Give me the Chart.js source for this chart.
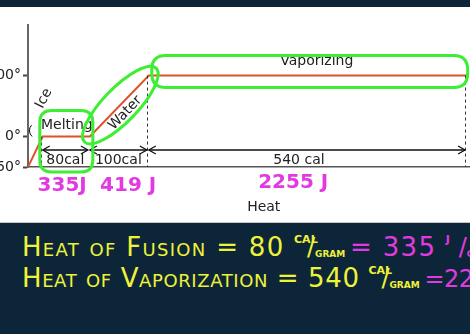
<!DOCTYPE html>
<html lang="en">
<head>
<meta charset="UTF-8">
<title>Heating curve</title>
<script src="https://cdn.jsdelivr.net/npm/chart.js"></script>
<style>
    body {
        margin: 0;
        width: 470px;
        height: 334px;
        overflow: hidden;
        background-color: #0d2538;
        font-family: 'DejaVu Sans', sans-serif;
    }
    .plot {
        position: absolute;
        left: 0;
        top: 7px;
        width: 470px;
        height: 215px;
        background-color: #fff;
        border-bottom: 1px solid #c8c8c8;
    }
    .line {
        position: absolute;
        left: 22px;
        width: 448px;
        overflow: hidden;
        white-space: nowrap;
        font-variant: small-caps;
        color: #eef23a;
        font-size: 26px;
        line-height: 26px;
        height: 32px;
        letter-spacing: 1.3px;
    }
    .l1 { top: 234px; }
    .l2 { top: 265px; letter-spacing: 0.6px; }
    .pink { color: #e23ae0; }
    .l2 .pink { font-size: 24px; letter-spacing: -0.5px; }
    .frac {
        display: inline-block;
        position: relative;
        width: 56px;
        height: 26px;
        vertical-align: top;
        letter-spacing: 0;
        font-variant: normal;
        font-weight: bold;
        font-size: 11px;
    }
    .frac .num { position: absolute; left: 0; top: 0; font-size: 11px; line-height: 11px; }
    .frac .sl { position: absolute; left: 13px; top: 1px; font-size: 24px; line-height: 24px; font-weight: normal; }
    .frac .den { position: absolute; left: 21px; top: 16px; font-size: 9px; line-height: 9px; }
</style>
</head>
<body>
<div class="plot"><canvas id="curve" width="470" height="215"></canvas></div>
<div class="line l1">Heat of Fusion = 80 <span class="frac"><span class="num">CAL</span><span class="sl">/</span><span class="den">GRAM</span></span><span class="pink">= 335 <span class="frac"><span class="num">J</span><span class="sl">/</span><span class="den">GRAM</span></span></span></div>
<div class="line l2">Heat of Vaporization = 540 <span class="frac"><span class="num">CAL</span><span class="sl">/</span><span class="den">GRAM</span></span><span class="pink">=2255 <span class="frac"><span class="num">J</span><span class="sl">/</span><span class="den">GRAM</span></span></span></div>
<script>
    // heat added (cal per gram) and temperature (°C) at each corner of the curve
    const heatCal = [0, 25, 105, 205, 745];
    const tempC = [-50, 0, 0, 100, 100];
    const tempTicks = [-50, 0, 100];
    const phaseNames = ['Ice', 'Melting', 'Water', 'Vaporizing'];
    const spanCal = ['80cal', '100cal', '540 cal'];
    const spanJoule = ['335J', '419 J', '2255 J'];

    const green = '#3cef32';
    const pink = '#e23ae0';

    function arrowHead(ctx, x, y, dir) {
        ctx.beginPath();
        ctx.moveTo(x - dir * 7, y - 4);
        ctx.lineTo(x, y);
        ctx.lineTo(x - dir * 7, y + 4);
        ctx.stroke();
    }

    function roundBox(ctx, l, t, r, b, rad) {
        ctx.beginPath();
        ctx.moveTo(l + rad, t);
        ctx.lineTo(r - rad, t);
        ctx.quadraticCurveTo(r, t, r, t + rad);
        ctx.lineTo(r, b - rad);
        ctx.quadraticCurveTo(r, b, r - rad, b);
        ctx.lineTo(l + rad, b);
        ctx.quadraticCurveTo(l, b, l, b - rad);
        ctx.lineTo(l, t + rad);
        ctx.quadraticCurveTo(l, t, l + rad, t);
        ctx.stroke();
    }

    const notes = {
        id: 'notes',
        afterDatasetsDraw(chart) {
            const { ctx, chartArea: a } = chart;
            const xs = chart.scales.x, ys = chart.scales.y;
            const X = v => xs.getPixelForValue(v);
            const Y = v => ys.getPixelForValue(v);
            ctx.save();

            // dashed drop lines
            ctx.strokeStyle = '#333';
            ctx.lineWidth = 1;
            ctx.setLineDash([3, 3]);
            [1, 3, 4].forEach(i => {
                ctx.beginPath();
                ctx.moveTo(Math.round(X(heatCal[i])) - 1.5, Y(tempC[i]));
                ctx.lineTo(Math.round(X(heatCal[i])) - 1.5, a.bottom);
                ctx.stroke();
            });
            ctx.setLineDash([]);

            // span arrows with calorie labels
            const ay = a.bottom - 17;
            ctx.strokeStyle = '#111';
            ctx.lineWidth = 1.3;
            ctx.fillStyle = '#222';
            ctx.font = '14px "DejaVu Sans"';
            ctx.textAlign = 'center';
            ctx.textBaseline = 'middle';
            for (let i = 0; i < 3; i++) {
                const x0 = X(heatCal[i + 1]), x1 = X(heatCal[i + 2]) - 2;
                ctx.beginPath();
                ctx.moveTo(x0, ay);
                ctx.lineTo(x1, ay);
                ctx.stroke();
                arrowHead(ctx, x0, ay, -1);
                arrowHead(ctx, x1, ay, 1);
                ctx.fillText(spanCal[i], (x0 + x1) / 2 + (i === 2 ? -8 : 0), ay + 10);
            }

            // phase names
            ctx.fillText(phaseNames[1], X(66), Y(0) - 11);
            ctx.fillText(phaseNames[3], X(490), Y(100) - 14);
            ctx.save();
            ctx.translate(X(27), Y(0) - 38);
            ctx.rotate(-1.1);
            ctx.fillText(phaseNames[0], 0, 0);
            ctx.restore();
            const wx0 = X(heatCal[2]), wy0 = Y(tempC[2]), wx1 = X(heatCal[3]), wy1 = Y(tempC[3]);
            const ang = Math.atan2(wy1 - wy0, wx1 - wx0);
            ctx.save();
            ctx.translate((wx0 + wx1) / 2 + 6, (wy0 + wy1) / 2 + 7);
            ctx.rotate(ang);
            ctx.fillText(phaseNames[2], 0, 0);
            ctx.restore();

            // little pointer from "Ice" to its line
            ctx.beginPath();
            ctx.arc(X(16), Y(0) - 6, 8, 2.3, 3.9);
            ctx.lineWidth = 1;
            ctx.stroke();

            // green hand-drawn loops
            ctx.strokeStyle = green;
            ctx.lineWidth = 3;
            roundBox(ctx, X(20), Y(0) - 26, X(110), a.bottom + 5, 12);
            ctx.beginPath();
            ctx.ellipse((wx0 + wx1) / 2 + 1, (wy0 + wy1) / 2 - 1,
                Math.hypot(wx1 - wx0, wy1 - wy0) / 2 + 9, 17, ang, 0, Math.PI * 2);
            ctx.stroke();
            roundBox(ctx, X(210), Y(100) - 20, X(746), Y(100) + 12, 14);

            // joule equivalents
            ctx.fillStyle = pink;
            ctx.font = 'bold 20px "DejaVu Sans"';
            [58, 170, 450].forEach((v, i) => {
                ctx.fillText(spanJoule[i], X(v), a.bottom + (i === 2 ? 16 : 19));
            });

            // axis title
            ctx.fillStyle = '#222';
            ctx.font = '14px "DejaVu Sans"';
            ctx.fillText('Heat', X(400), a.bottom + 40);
            ctx.restore();
        }
    };

    new Chart(document.getElementById('curve'), {
        type: 'line',
        data: {
            datasets: [{
                data: heatCal.map((h, i) => ({ x: h, y: tempC[i] })),
                borderColor: '#e0502a',
                borderWidth: 2,
                pointRadius: 0,
                tension: 0
            }]
        },
        options: {
            responsive: false,
            animation: false,
            events: [],
            layout: { padding: { top: 18, right: 0, left: 0, bottom: 0 } },
            plugins: { legend: { display: false }, tooltip: { enabled: false } },
            scales: {
                x: {
                    type: 'linear',
                    min: 0,
                    max: 750,
                    ticks: { display: false },
                    grid: { display: false },
                    border: { display: true, color: '#555', width: 1.5 },
                    afterFit: s => { s.height = 55; }
                },
                y: {
                    min: -50,
                    max: 183,
                    afterBuildTicks: s => { s.ticks = tempTicks.map(v => ({ value: v })); },
                    ticks: {
                        color: '#222',
                        padding: 2,
                        font: { family: 'DejaVu Sans', size: 14 },
                        callback: v => v + '°'
                    },
                    grid: { drawOnChartArea: false, tickLength: 5, color: '#444', tickWidth: 2 },
                    border: { display: true, color: '#666', width: 2 },
                    afterFit: s => { s.width = 28; }
                }
            }
        },
        plugins: [notes]
    });
</script>
</body>
</html>
